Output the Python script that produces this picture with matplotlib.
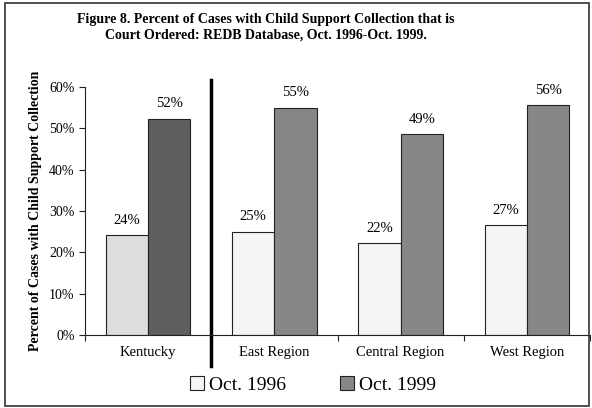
import matplotlib
matplotlib.use("Agg")
from matplotlib import pyplot as plt
from matplotlib.patches import Patch, Rectangle
from matplotlib.transforms import blended_transform_factory
import numpy as np

# dane z wykresu
categories = ["Kentucky", "East Region", "Central Region", "West Region"]
oct1996 = [24.1, 25.0, 22.2, 26.6]
oct1999 = [52.3, 55.0, 48.6, 55.6]
labels1996 = ["24%", "25%", "22%", "27%"]
labels1999 = ["52%", "55%", "49%", "56%"]
series_names = ["Oct. 1996", "Oct. 1999"]

plt.rcParams['font.family'] = ['Liberation Serif', 'DejaVu Serif']

fig = plt.figure(figsize=(5.92, 4.08), dpi=100)
ax = fig.add_axes([85 / 592, 1 - 335 / 408, (590 - 85) / 592, (335 - 87) / 408])

x = np.arange(len(categories))
w = 0.335
light = ["#DDDDDD", "#F5F5F5", "#F5F5F5", "#F5F5F5"]
dark = ["#5F5F5F", "#878787", "#878787", "#878787"]

b1 = ax.bar(x - w / 2, oct1996, w, color=light, edgecolor="#222222", linewidth=0.8)
b2 = ax.bar(x + w / 2, oct1999, w, color=dark, edgecolor="#222222", linewidth=0.8)

for bars, labs in ((b1, labels1996), (b2, labels1999)):
    for b, lab in zip(bars, labs):
        ax.annotate(lab, (b.get_x() + b.get_width() / 2, b.get_height()),
                    xytext=(0, 6), textcoords="offset points",
                    ha="center", va="bottom", fontsize=10.5)

ax.set_xlim(-0.5, 3.5)
ax.set_ylim(0, 60)
ax.set_yticks(np.arange(0, 61, 10))
ax.set_yticklabels([f"{v}%" for v in range(0, 61, 10)], fontsize=10)
ax.set_xticks(np.arange(-0.5, 3.6, 1))
ax.set_xticklabels([])
ax.set_xticks(x, minor=True)
ax.set_xticklabels(categories, minor=True, fontsize=10.5)
ax.tick_params(axis="x", which="major", length=4, direction="out", color="#222222")
ax.tick_params(axis="x", which="minor", length=0, pad=8)
ax.tick_params(axis="y", length=4, direction="out", color="#222222")
for s in ("top", "right"):
    ax.spines[s].set_visible(False)
for s in ("left", "bottom"):
    ax.spines[s].set_color("#222222")
    ax.spines[s].set_linewidth(0.8)

ax.set_ylabel("Percent of Cases with Child Support Collection",
              fontsize=10, fontweight="bold", labelpad=5)

# gruba linia oddzielająca Kentucky od regionów
tr = blended_transform_factory(ax.transData, ax.transAxes)
ax.plot([0.5, 0.5], [-0.125, 1.028], color="black", linewidth=2.5,
        transform=tr, clip_on=False)

fig.text(266 / 592, 1 - 27 / 408,
         "Figure 8. Percent of Cases with Child Support Collection that is\n"
         "Court Ordered: REDB Database, Oct. 1996-Oct. 1999.",
         ha="center", va="center", fontsize=10, fontweight="bold",
         linespacing=1.3)

handles = [Patch(facecolor="#F5F5F5", edgecolor="#222222", linewidth=0.8),
           Patch(facecolor="#878787", edgecolor="#222222", linewidth=0.8)]
fig.legend(handles, series_names, loc="center", bbox_to_anchor=(313 / 592, 1 - 385 / 408),
           ncol=2, frameon=False, fontsize=14, handlelength=0.7, handleheight=0.7,
           handletextpad=0.25, columnspacing=2.8)

fig.patches.append(Rectangle((5 / 592, 2 / 408), 584 / 592, 403 / 408,
                             transform=fig.transFigure, fill=False,
                             edgecolor="#333333", linewidth=1.2))

fig.savefig("out.png", dpi=100)
